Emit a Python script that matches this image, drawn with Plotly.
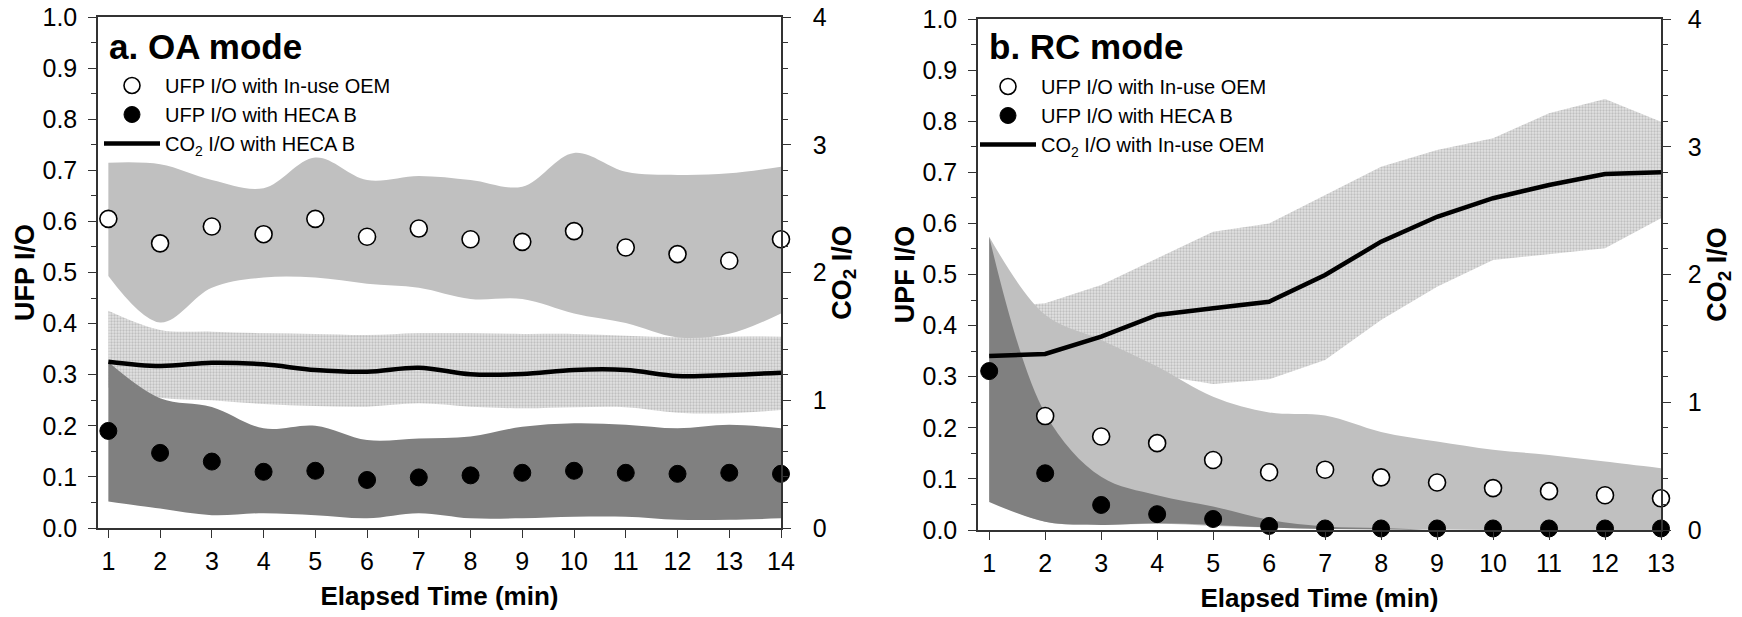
import plotly.graph_objects as go

# ---------------- data: panel a (OA mode) ----------------
time_a = list(range(1, 15))
ufp_oem_a = [0.605, 0.557, 0.590, 0.575, 0.605, 0.570, 0.586, 0.565, 0.560, 0.581, 0.549, 0.536, 0.523, 0.565]
ufp_oem_a_hi = [0.715, 0.712, 0.681, 0.665, 0.725, 0.681, 0.689, 0.681, 0.668, 0.734, 0.697, 0.691, 0.694, 0.707]
ufp_oem_a_lo = [0.493, 0.402, 0.470, 0.490, 0.490, 0.478, 0.470, 0.448, 0.448, 0.420, 0.401, 0.373, 0.380, 0.420]
ufp_heca_a = [0.190, 0.147, 0.130, 0.110, 0.112, 0.094, 0.099, 0.103, 0.108, 0.112, 0.108, 0.106, 0.108, 0.106]
ufp_heca_a_hi = [0.325, 0.254, 0.237, 0.195, 0.200, 0.172, 0.175, 0.179, 0.198, 0.205, 0.202, 0.195, 0.202, 0.195]
ufp_heca_a_lo = [0.052, 0.038, 0.025, 0.029, 0.025, 0.019, 0.029, 0.019, 0.019, 0.022, 0.022, 0.016, 0.016, 0.019]
co2_a = [1.302, 1.268, 1.294, 1.281, 1.237, 1.224, 1.255, 1.203, 1.205, 1.237, 1.237, 1.190, 1.198, 1.216]
co2_a_hi = [1.70, 1.55, 1.537, 1.524, 1.519, 1.511, 1.524, 1.524, 1.519, 1.519, 1.505, 1.493, 1.498, 1.498]
co2_a_lo = [1.10, 1.02, 1.00, 0.97, 0.955, 0.95, 0.976, 0.95, 0.937, 0.945, 0.945, 0.903, 0.898, 0.924]

# ---------------- data: panel b (RC mode) ----------------
time_b = list(range(1, 14))
ufp_oem_b = [None, 0.223, 0.183, 0.170, 0.137, 0.113, 0.118, 0.103, 0.093, 0.082, 0.076, 0.068, 0.062]
ufp_oem_b_hi = [0.574, 0.421, 0.372, 0.320, 0.261, 0.230, 0.224, 0.192, 0.173, 0.157, 0.147, 0.134, 0.121]
ufp_oem_b_lo = [0.059, 0.016, 0.010, 0.012, 0.008, 0.005, 0.003, 0.002, 0.001, 0.0, 0.0, 0.0, 0.0]
ufp_heca_b = [0.311, 0.111, 0.049, 0.031, 0.0215, 0.008, 0.003, 0.003, 0.003, 0.003, 0.003, 0.003, 0.003]
ufp_heca_b_hi = [0.574, 0.228, 0.104, 0.068, 0.046, 0.020, 0.007, 0.004, 0.0, 0.0, 0.0, 0.0, 0.0]
ufp_heca_b_lo = [0.055, 0.016, 0.010, 0.013, 0.010, 0.005, 0.002, 0.001, 0.0, 0.0, 0.0, 0.0, 0.0]
co2_b = [1.362, 1.378, 1.513, 1.683, 1.735, 1.787, 1.996, 2.257, 2.452, 2.597, 2.701, 2.787, 2.80]
co2_b_hi = [1.74, 1.775, 1.918, 2.127, 2.335, 2.40, 2.622, 2.844, 2.975, 3.066, 3.262, 3.374, 3.196]
co2_b_lo = [1.35, 1.30, 1.25, 1.213, 1.143, 1.18, 1.331, 1.644, 1.905, 2.113, 2.16, 2.205, 2.44]

x_ticks_a = list(range(1, 15))
x_ticks_b = list(range(1, 14))

FONT = "Liberation Sans, Arial, sans-serif"
AX = "#333333"
LIGHT = "#c0c0c0"
DARK = "#808080"
HATCH = dict(shape=".", size=3, solidity=0.45, fgcolor="#9c9c9c", bgcolor="#e2e2e2")

fig = go.Figure()


def band(x, lo, hi, color, xa, ya, shape, pattern=None):
    fig.add_trace(go.Scatter(x=x, y=lo, mode="lines", line=dict(width=0, shape=shape),
                             xaxis=xa, yaxis=ya, showlegend=False, hoverinfo="skip"))
    kw = dict(fillpattern=pattern) if pattern else {}
    fig.add_trace(go.Scatter(x=x, y=hi, mode="lines", line=dict(width=0, shape=shape),
                             fill="tonexty", fillcolor=color, xaxis=xa, yaxis=ya,
                             showlegend=False, hoverinfo="skip", **kw))


def panel(x, oem, oem_hi, oem_lo, heca, heca_hi, heca_lo, co2, co2_hi, co2_lo,
          xa, ya_co2, ya_ufp, ya_line, legend, co2_label, shape_bands, shape_co2):
    band(x, co2_lo, co2_hi, "#d6d6d6", xa, ya_co2, shape_co2, HATCH)
    band(x, oem_lo, oem_hi, LIGHT, xa, ya_ufp, shape_bands)
    band(x, heca_lo, heca_hi, DARK, xa, ya_ufp, shape_bands)
    fig.add_trace(go.Scatter(x=x, y=oem, mode="markers", name="UFP I/O with In-use OEM",
                             marker=dict(symbol="circle", size=17, color="white",
                                         line=dict(color="black", width=1.6)),
                             xaxis=xa, yaxis=ya_ufp, legend=legend, cliponaxis=False))
    fig.add_trace(go.Scatter(x=x, y=heca, mode="markers", name="UFP I/O with HECA B",
                             marker=dict(symbol="circle", size=17, color="black",
                                         line=dict(color="black", width=1)),
                             xaxis=xa, yaxis=ya_ufp, legend=legend, cliponaxis=False))
    fig.add_trace(go.Scatter(x=x, y=co2, mode="lines", name=co2_label,
                             line=dict(color="black", width=4.5, shape=shape_co2),
                             xaxis=xa, yaxis=ya_line, legend=legend, cliponaxis=False))


panel(time_a, ufp_oem_a, ufp_oem_a_hi, ufp_oem_a_lo, ufp_heca_a, ufp_heca_a_hi, ufp_heca_a_lo,
      co2_a, co2_a_hi, co2_a_lo, "x", "y", "y2", "y3", "legend",
      "CO<sub>2</sub> I/O with HECA B", "spline", "spline")
panel(time_b, ufp_oem_b, ufp_oem_b_hi, ufp_oem_b_lo, ufp_heca_b, ufp_heca_b_hi, ufp_heca_b_lo,
      co2_b, co2_b_hi, co2_b_lo, "x2", "y4", "y5", "y6", "legend2",
      "CO<sub>2</sub> I/O with In-use OEM", "spline", "linear")

W, H = 1742, 617
xa_dom = [98 / W, 781 / W]
xb_dom = [978 / W, 1661 / W]
ya_dom = [1 - 528 / H, 1 - 17 / H]
yb_dom = [1 - 530 / H, 1 - 19 / H]

tickfont = dict(family=FONT, size=25, color="black")
xtitlefont = dict(family=FONT, size=26, color="black", weight="bold")
ytitlefont = dict(family=FONT, size=27, color="black", weight="bold")


def xaxis(dom, rng, vals, anchor):
    return dict(domain=dom, range=rng, tickvals=vals, ticks="outside", ticklen=8, tickwidth=1.3,
                tickcolor=AX, showline=True, linecolor=AX, linewidth=1.5, mirror=True,
                showgrid=False, zeroline=False, tickfont=tickfont, anchor=anchor,
                ticklabelstandoff=2, automargin=False,
                title=dict(text="Elapsed Time (min)", font=xtitlefont, standoff=13))


def co2axis(dom, anchor, standoff):
    return dict(domain=dom, range=[0, 4], side="right", anchor=anchor, tickvals=[0, 1, 2, 3, 4],
                ticks="outside", ticklen=8, tickwidth=1.3, tickcolor=AX,
                minor=dict(dtick=0.2, ticks="outside", ticklen=5, tickcolor=AX, tickwidth=1.1),
                showline=True, linecolor=AX, linewidth=1.5, showgrid=False, zeroline=False,
                tickfont=tickfont, ticklabelstandoff=standoff, automargin=False,
                title=dict(text="CO<sub>2</sub> I/O", font=ytitlefont, standoff=0))


def ufpaxis(dom, anchor, over, title):
    return dict(domain=dom, range=[0, 1], side="left", anchor=anchor, overlaying=over,
                tickvals=[i / 10 for i in range(11)], tickformat=".1f",
                ticks="outside", ticklen=8, tickwidth=1.3, tickcolor=AX,
                minor=dict(dtick=0.05, ticks="outside", ticklen=5, tickcolor=AX, tickwidth=1.1),
                showline=True, linecolor=AX, linewidth=1.5, showgrid=False, zeroline=False,
                tickfont=tickfont, ticklabelstandoff=6, automargin=False,
                title=dict(text=title, font=ytitlefont, standoff=0))


def lineaxis(dom, anchor, over):
    return dict(domain=dom, range=[0, 4], anchor=anchor, overlaying=over, visible=False,
                showgrid=False, zeroline=False, automargin=False)


legfont = dict(family=FONT, size=20, color="black")

fig.update_layout(
    width=W, height=H, autosize=False,
    margin=dict(l=0, r=0, t=0, b=0, autoexpand=False),
    paper_bgcolor="white", plot_bgcolor="white",
    xaxis=xaxis(xa_dom, [0.8, 14], x_ticks_a, "y"),
    xaxis2=xaxis(xb_dom, [0.8, 13], x_ticks_b, "y4"),
    yaxis=co2axis(ya_dom, "x", 17),
    yaxis2=ufpaxis(ya_dom, "x", "y", "UFP I/O"),
    yaxis3=lineaxis(ya_dom, "x", "y"),
    yaxis4=co2axis(yb_dom, "x2", 12),
    yaxis5=ufpaxis(yb_dom, "x2", "y4", "UPF I/O"),
    yaxis6=lineaxis(yb_dom, "x2", "y4"),
    legend=dict(x=99 / W, y=1 - 66 / H, xanchor="left", yanchor="top", font=legfont,
                bgcolor="rgba(0,0,0,0)", tracegroupgap=0, itemwidth=56, traceorder="normal"),
    legend2=dict(x=975 / W, y=1 - 67 / H, xanchor="left", yanchor="top", font=legfont,
                 bgcolor="rgba(0,0,0,0)", tracegroupgap=0, itemwidth=56, traceorder="normal"),
    annotations=[
        dict(text="<b>a. OA mode</b>", x=107 / W, y=1 - 47 / H, xref="paper", yref="paper",
             xanchor="left", yanchor="middle", showarrow=False,
             font=dict(family=FONT, size=35, color="black")),
        dict(text="<b>b. RC mode</b>", x=987 / W, y=1 - 47 / H, xref="paper", yref="paper",
             xanchor="left", yanchor="middle", showarrow=False,
             font=dict(family=FONT, size=35, color="black")),
    ],
)

fig.write_html("out.html", config={"displayModeBar": False},
               post_script="document.body.style.margin='0px';document.body.style.overflow='hidden';")
